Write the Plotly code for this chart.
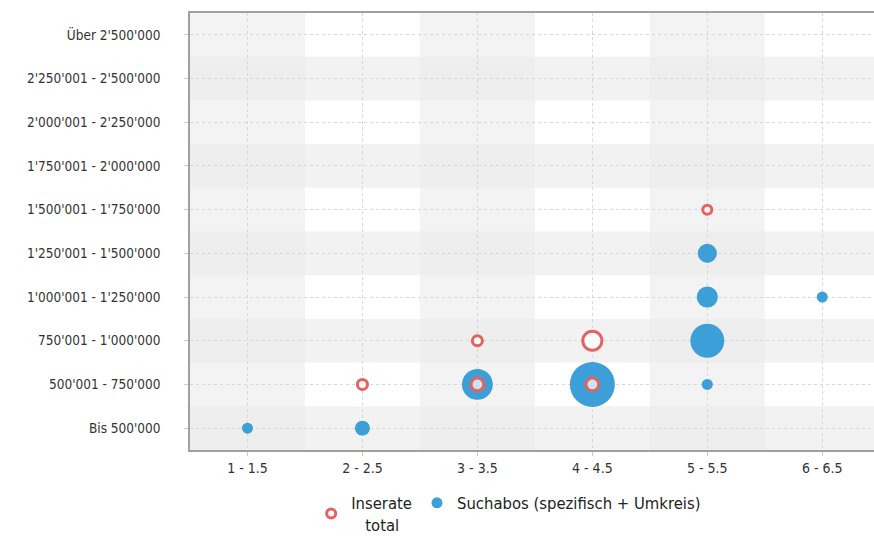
import plotly.graph_objects as go

# Price classes (y) and room classes (x)
preis_klassen = [
    "Bis 500'000",
    "500'001 - 750'000",
    "750'001 - 1'000'000",
    "1'000'001 - 1'250'000",
    "1'250'001 - 1'500'000",
    "1'500'001 - 1'750'000",
    "1'750'001 - 2'000'000",
    "2'000'001 - 2'250'000",
    "2'250'001 - 2'500'000",
    "Über 2'500'000",
]
zimmer_klassen = ["1 - 1.5", "2 - 2.5", "3 - 3.5", "4 - 4.5", "5 - 5.5", "6 - 6.5"]

# Suchabos (spezifisch + Umkreis)
abo_zimmer = ["1 - 1.5", "2 - 2.5", "3 - 3.5", "4 - 4.5", "5 - 5.5", "5 - 5.5", "5 - 5.5", "5 - 5.5", "6 - 6.5"]
abo_preis = ["Bis 500'000", "Bis 500'000", "500'001 - 750'000", "500'001 - 750'000",
             "500'001 - 750'000", "750'001 - 1'000'000", "1'000'001 - 1'250'000",
             "1'250'001 - 1'500'000", "1'000'001 - 1'250'000"]
abo_anzahl = [6, 11, 47, 100, 6, 57, 22, 18, 6]

# Inserate total
ins_zimmer = ["2 - 2.5", "3 - 3.5", "3 - 3.5", "4 - 4.5", "4 - 4.5", "5 - 5.5"]
ins_preis = ["500'001 - 750'000", "500'001 - 750'000", "750'001 - 1'000'000",
             "500'001 - 750'000", "750'001 - 1'000'000", "1'500'001 - 1'750'000"]
ins_anzahl = [5, 8, 5, 8, 18, 4]

SIZEREF = 0.0988
FONT = "DejaVu Sans Condensed, Liberation Sans Narrow, Liberation Sans, sans-serif"
BLAU = "#3d9fd7"
ROT = "#e4625f"

fig = go.Figure()

fig.add_trace(go.Scatter(
    x=abo_zimmer, y=abo_preis, mode="markers",
    name="Suchabos (spezifisch + Umkreis)", showlegend=False,
    marker=dict(size=abo_anzahl, sizemode="area", sizeref=SIZEREF,
                color=BLAU, opacity=1, line=dict(width=0)),
))
fig.add_trace(go.Scatter(
    x=ins_zimmer, y=ins_preis, mode="markers",
    name="Inserate total", showlegend=False,
    marker=dict(size=ins_anzahl, sizemode="area", sizeref=SIZEREF,
                color="rgba(255,255,255,0.72)", opacity=1,
                line=dict(width=3, color=ROT)),
))

# Legend entries with fixed symbol sizes
fig.add_trace(go.Scatter(
    x=[None], y=[None], mode="markers", name="Inserate<br>\u00a0\u00a0\u00a0total",
    legendrank=1,
    marker=dict(size=9, color="white", line=dict(width=3, color=ROT)),
))
fig.add_trace(go.Scatter(
    x=[None], y=[None], mode="markers", name="Suchabos (spezifisch + Umkreis)",
    legendrank=2,
    marker=dict(size=11, color=BLAU, line=dict(width=0)),
))

# Alternating background bands (columns, rows and their crossings)
shapes = []
for i in range(0, len(zimmer_klassen), 2):
    shapes.append(dict(type="rect", xref="x", yref="paper", x0=i - 0.5, x1=i + 0.5,
                       y0=0, y1=1, fillcolor="#f3f3f3", line_width=0, layer="below"))
for j in range(0, len(preis_klassen), 2):
    shapes.append(dict(type="rect", xref="paper", yref="y", x0=0, x1=1,
                       y0=j - 0.5, y1=j + 0.5, fillcolor="#f2f2f2",
                       line_width=0, layer="below"))
for i in range(0, len(zimmer_klassen), 2):
    for j in range(0, len(preis_klassen), 2):
        shapes.append(dict(type="rect", xref="x", yref="y", x0=i - 0.5, x1=i + 0.5,
                           y0=j - 0.5, y1=j + 0.5, fillcolor="#eeeeee",
                           line_width=0, layer="below"))

fig.update_layout(
    width=874, height=536,
    margin=dict(l=190, r=0, t=13, b=86),
    paper_bgcolor="white", plot_bgcolor="white",
    font=dict(family=FONT, color="#333333", size=14),
    shapes=shapes,
    showlegend=True,
    legend=dict(orientation="h", xref="container", yref="container",
                x=0.582, xanchor="center", y=0.094, yanchor="top",
                font=dict(size=16.5, color="#222222"), itemwidth=30,
                traceorder="normal", valign="middle", tracegroupgap=0),
)

fig.update_xaxes(
    type="category", categoryorder="array", categoryarray=zimmer_klassen,
    range=[-0.5, 5.45],
    showgrid=True, gridcolor="#d8d8d8", griddash="3px,3px", gridwidth=1,
    showline=True, linecolor="#a0a0a0", linewidth=1.5, mirror=True,
    ticks="outside", ticklen=4, tickcolor="#e0c8b0",
    tickfont=dict(size=14, color="#333333"),
    zeroline=False, fixedrange=True,
)
fig.update_yaxes(
    type="category", categoryorder="array", categoryarray=preis_klassen,
    range=[-0.5, 9.5],
    showgrid=True, gridcolor="#d8d8d8", griddash="3px,3px", gridwidth=1,
    showline=True, linecolor="#a0a0a0", linewidth=1.5, mirror=False,
    ticks="outside", ticklen=4, tickcolor="#cccccc",
    tickfont=dict(size=13.5, color="#333333"),
    ticklabelstandoff=21,
    zeroline=False, fixedrange=True,
)

fig.write_html("out.html")
